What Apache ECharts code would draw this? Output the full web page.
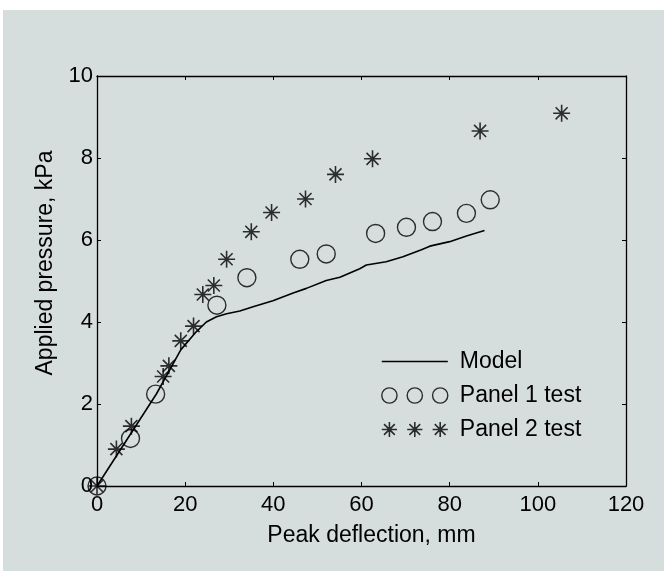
<!DOCTYPE html>
<html><head><meta charset="utf-8">
<script src="https://cdn.jsdelivr.net/npm/echarts@6/dist/echarts.min.js"></script>
<style>
html,body{margin:0;padding:0;background:#ffffff;width:664px;height:571px;overflow:hidden}
#chart{position:absolute;left:3px;top:10px;width:661px;height:561px;}
</style>
</head><body><div id="chart"></div>
<script>
// ---- data ----
const xMin = 0, xMax = 120, xStep = 20;
const yMin = 0, yMax = 10, yStep = 2;
const xTitle = 'Peak deflection, mm';
const yTitle = 'Applied pressure, kPa';
const seriesNames = ['Model', 'Panel 1 test', 'Panel 2 test'];

const modelX = [0, 13.5, 19.0, 22.5, 24.8, 27.1, 29.4, 32.4, 35.4, 39.9, 44.5, 47.5, 52.0, 55.1, 59.6, 61.1, 65.6, 69.4, 73.6, 75.5, 80.0, 83.8, 87.9];
const modelY = [0, 2.25, 3.32, 3.76, 4.00, 4.13, 4.20, 4.27, 4.37, 4.52, 4.71, 4.82, 5.01, 5.09, 5.30, 5.39, 5.47, 5.59, 5.76, 5.85, 5.96, 6.10, 6.23];

const panel1X = [0, 7.6, 13.3, 27.2, 34.0, 46.0, 52.0, 63.2, 70.2, 76.1, 83.8, 89.2];
const panel1Y = [0, 1.16, 2.24, 4.41, 5.08, 5.53, 5.66, 6.16, 6.31, 6.45, 6.65, 6.98];

const panel2X = [0, 4.4, 7.8, 15.0, 16.3, 19.0, 21.9, 24.0, 26.5, 29.4, 35.0, 39.6, 47.3, 54.1, 62.5, 86.9, 105.4];
const panel2Y = [0, 0.90, 1.46, 2.67, 2.93, 3.54, 3.90, 4.67, 4.89, 5.53, 6.20, 6.67, 7.00, 7.60, 7.98, 8.66, 9.09];

// ---- styling ----
const FONT = "'Liberation Sans', Arial, Helvetica, sans-serif";
const BG = '#d6dedd';
const zip = (a, b) => a.map((v, i) => [v, b[i]]);

const asterisk = 'path://M10,0L10,20M0,10L20,10M2.93,2.93L17.07,17.07M2.93,17.07L17.07,2.93';
function circ(cx, cy, r) {
  return 'M' + (cx + r) + ',' + cy + 'A' + r + ',' + r + ' 0 1,1 ' + (cx - r) + ',' + cy +
         'A' + r + ',' + r + ' 0 1,1 ' + (cx + r) + ',' + cy + 'Z';
}
function star(cx, cy, r) {
  const d = r * 0.7071;
  return 'M' + cx + ',' + (cy - r) + 'L' + cx + ',' + (cy + r) +
         'M' + (cx - r) + ',' + cy + 'L' + (cx + r) + ',' + cy +
         'M' + (cx - d) + ',' + (cy - d) + 'L' + (cx + d) + ',' + (cy + d) +
         'M' + (cx - d) + ',' + (cy + d) + 'L' + (cx + d) + ',' + (cy - d);
}
const circIcon = 'path://' + circ(8, 8, 7.5) + circ(33, 8, 7.5) + circ(58, 8, 7.5);
const starIcon = 'path://' + star(8, 8, 7.5) + star(33, 8, 7.5) + star(58, 8, 7.5);
const lineIcon = 'path://M0,7.2L66,7.2L66,8.8L0,8.8Z';

function axisBase() {
  return {
    axisLine: { show: true, onZero: false, lineStyle: { color: '#000', width: 1.3 } },
    axisTick: { show: true, inside: true, length: 4, lineStyle: { color: '#000', width: 1 } },
    splitLine: { show: false }
  };
}

const chart = echarts.init(document.getElementById('chart'), null, { renderer: 'canvas' });
chart.setOption({
  backgroundColor: BG,
  animation: false,
  textStyle: { fontFamily: FONT, color: '#000' },
  grid: { left: 94, top: 66, right: 38, bottom: 85, show: false },
  legend: {
    orient: 'vertical',
    left: 378, top: 340, padding: 0,
    itemWidth: 66, itemHeight: 16, itemGap: 11,
    textStyle: { fontFamily: FONT, fontSize: 23, color: '#000', padding: [0, 0, 0, 7] },
    data: [
      { name: seriesNames[0], icon: lineIcon, itemStyle: { color: '#000', borderWidth: 0 } },
      { name: seriesNames[1], icon: circIcon, itemStyle: { color: 'rgba(0,0,0,0)', borderColor: '#000', borderWidth: 1.4 } },
      { name: seriesNames[2], icon: starIcon, itemStyle: { color: 'rgba(0,0,0,0)', borderColor: '#000', borderWidth: 1.6 } }
    ]
  },
  xAxis: [
    Object.assign(axisBase(), {
      type: 'value', position: 'bottom', min: xMin, max: xMax, interval: xStep,
      name: xTitle, nameLocation: 'middle', nameGap: 38,
      nameTextStyle: { fontFamily: FONT, fontSize: 23, color: '#000', padding: [0, 0, 0, 20] },
      axisLabel: { show: true, margin: 8, fontFamily: FONT, fontSize: 22, color: '#000' }
    }),
    Object.assign(axisBase(), {
      type: 'value', position: 'top', min: xMin, max: xMax, interval: xStep,
      axisLabel: { show: false }
    })
  ],
  yAxis: [
    Object.assign(axisBase(), {
      type: 'value', position: 'left', min: yMin, max: yMax, interval: yStep,
      name: yTitle, nameLocation: 'middle', nameGap: 38, nameRotate: 90,
      nameTextStyle: { fontFamily: FONT, fontSize: 23, color: '#000', padding: [0, 0, 0, 36] },
      axisLabel: { show: true, margin: 4, fontFamily: FONT, fontSize: 22, color: '#000' }
    }),
    Object.assign(axisBase(), {
      type: 'value', position: 'right', min: yMin, max: yMax, interval: yStep,
      axisLabel: { show: false }
    })
  ],
  series: [
    {
      name: seriesNames[0], type: 'line', data: zip(modelX, modelY),
      symbol: 'none', showSymbol: false, smooth: false,
      lineStyle: { color: '#000', width: 1.6 }, itemStyle: { color: '#000' }, z: 2
    },
    {
      name: seriesNames[1], type: 'scatter', data: zip(panel1X, panel1Y),
      symbol: 'circle', symbolSize: 18,
      itemStyle: { color: 'rgba(0,0,0,0)', borderColor: '#000', borderWidth: 1.4 }, z: 3
    },
    {
      name: seriesNames[2], type: 'scatter', data: zip(panel2X, panel2Y),
      symbol: asterisk, symbolSize: 17,
      itemStyle: { color: 'rgba(0,0,0,0)', borderColor: '#000', borderWidth: 1.6 }, z: 4
    }
  ]
});
</script>
</body></html>
